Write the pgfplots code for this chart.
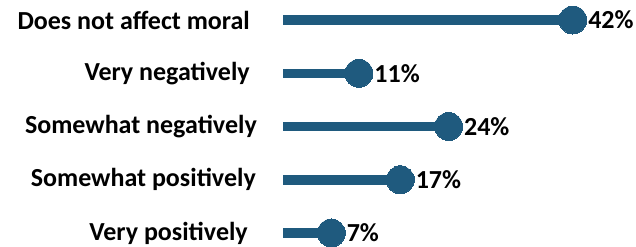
\documentclass[border=0pt]{standalone}
\usepackage{fontspec}
\setmainfont{Carlito}
\usepackage{pgfplots}
\pgfplotsset{compat=1.18}
\definecolor{lolli}{RGB}{31,90,126}
\begin{document}
\begin{tikzpicture}
\begin{axis}[
  at={(283bp,0bp)}, anchor=south west,
  scale only axis, width=353bp, height=247bp,
  xmin=0, xmax=51.16, ymin=-0.263, ymax=4.376,
  axis line style={draw=none},
  major tick length=0pt,
  xtick=\empty,
  ytick={0,1,2,3,4},
  yticklabels={Very positively\kern2bp, Somewhat positively\kern-6bp, Somewhat negatively\kern-7bp, Very negatively, Does not affect moral},
  yticklabel style={font=\bfseries\fontsize{26bp}{30bp}\selectfont, anchor=east, inner sep=0pt, xshift=-33bp},
  clip=false,
  /pgf/number format/assume math mode=true,
  nodes near coords={\pgfmathprintnumber{\pgfplotspointmeta}\%},
  point meta=x,
  every node near coord/.append style={font=\bfseries\fontsize{26bp}{30bp}\selectfont, anchor=west, inner sep=0pt, xshift=15.5bp, text=black},
]
\addplot[xcomb, draw=lolli, line width=9.5bp, mark=*, mark size=14bp, mark options={fill=lolli, draw=lolli, line width=0pt}] coordinates {
 (7,0) (17,1) (24,2) (11,3) (42,4)
};
\end{axis}
\pgfresetboundingbox
\path (0,0) rectangle (636bp,247bp);
\end{tikzpicture}
\end{document}
